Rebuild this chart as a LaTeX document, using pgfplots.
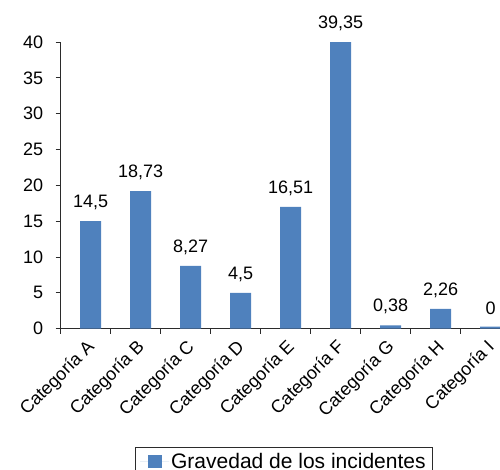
\documentclass[border=0pt]{standalone}
\usepackage{fontspec}
\setmainfont{Liberation Sans}
\usepackage{pgfplots}
\usepackage{pgfplotstable}
\pgfplotsset{compat=1.18}
\definecolor{barblue}{HTML}{4F81BD}
\definecolor{axgray}{HTML}{2B2B2B}
\pgfplotstableread{
x y label
0 15 {14,5}
1 19.2 {18,73}
2 8.75 {8,27}
3 5 {4,5}
4 17 {16,51}
5 40 {39,35}
6 0.45 {0,38}
7 2.75 {2,26}
8 0.3 {0}
}\datatable
\begin{document}
\begin{tikzpicture}
\begin{axis}[
  scale only axis,
  width=450pt, height=286.7pt,
  xmin=-0.5, xmax=8.5, ymin=0, ymax=40,
  clip=false,
  axis lines=left,
  axis line style={-, axgray, line width=1pt},
  ybar, bar width=21pt, bar shift=5pt,
  xtick={-0.5,0.5,...,8.5},
  x tick label as interval,
  xticklabels={Categoría A,Categoría B,Categoría C,Categoría D,Categoría E,Categoría F,Categoría G,Categoría H,Categoría I},
  ytick={0,5,...,40},
  major tick length=5pt,
  tick align=outside,
  tick style={axgray, line width=1pt},
  /pgf/number format/assume math mode=true,
  yticklabel style={font=\fontsize{18}{18}\selectfont, black, xshift=-9pt},
  xticklabel style={font=\fontsize{18}{18}\selectfont, black, rotate=45, anchor=east, xshift=0pt, yshift=-12pt},
  nodes near coords,
  point meta=explicit symbolic,
  every node near coord/.append style={font=\fontsize{18}{18}\selectfont, black, yshift=8pt},
  legend style={at={(0.496,0)}, anchor=north, yshift=-118.3pt, draw=axgray, line width=1pt,
    font=\fontsize{21}{21}\selectfont, inner xsep=5pt, inner ysep=4pt},
  legend cell align=left,
]
\addplot[fill=barblue, draw=none,
  legend image code/.code={\path (-8pt,0pt) -- (21pt,0pt); \fill[barblue] (0pt,-6pt) rectangle (14pt,7pt);}]
  table[x=x, y=y, meta=label] {\datatable};
\addlegendentry{Gravedad de los incidentes}
\coordinate (O) at (rel axis cs:0,0);
\end{axis}
\pgfresetboundingbox
\path[use as bounding box] ([shift={(-60.7pt,328.7pt)}]O) rectangle ([shift={(439.3pt,-141.3pt)}]O);
\end{tikzpicture}
\end{document}
